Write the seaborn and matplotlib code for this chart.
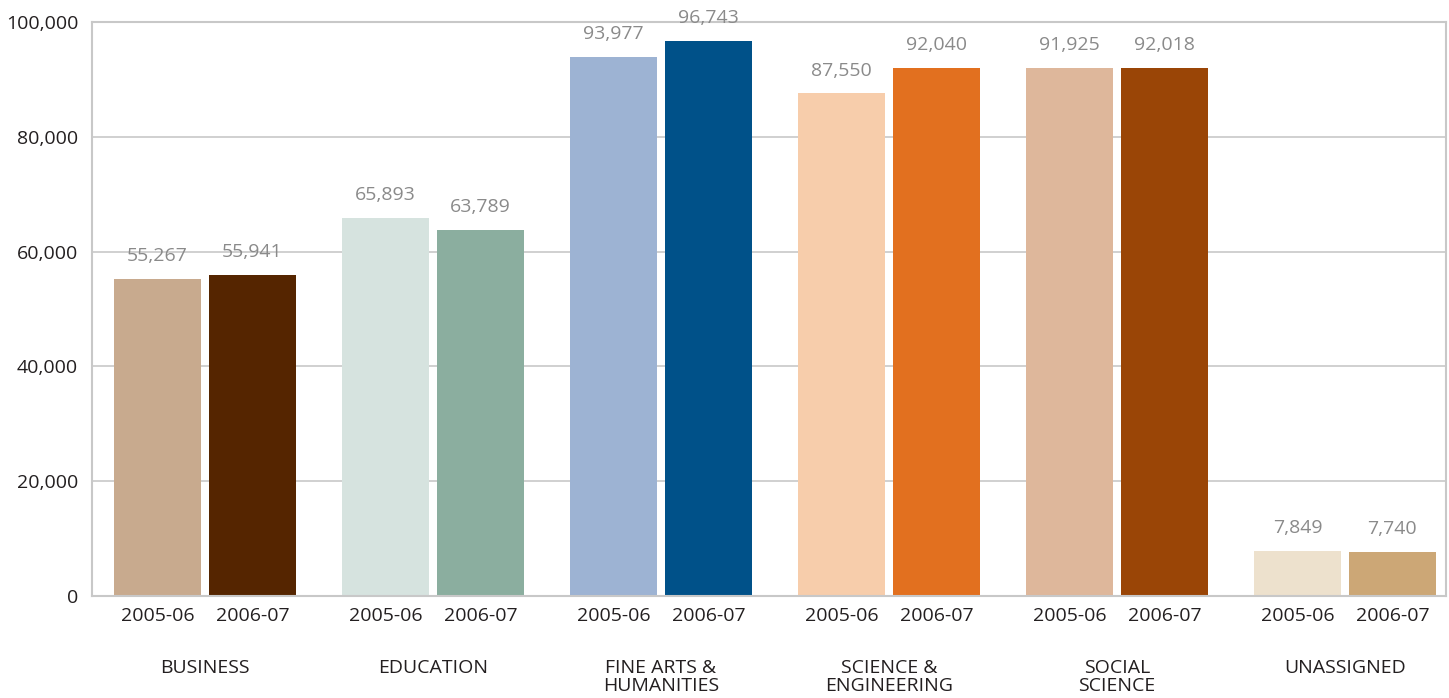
import pandas as pd
import matplotlib.pyplot as plt
import seaborn as sns

sns.set_style('white')
plt.rcParams['font.family'] = ['Open Sans', 'DejaVu Sans']

# data
colleges = ['BUSINESS', 'EDUCATION', 'FINE ARTS &\nHUMANITIES', 'SCIENCE &\nENGINEERING',
            'SOCIAL\nSCIENCE', 'UNASSIGNED']
years = ['2005-06', '2006-07']
values_0506 = [55267, 65893, 93977, 87550, 91925, 7849]
values_0607 = [55941, 63789, 96743, 92040, 92018, 7740]
bar_colors = ['#c8aa8e', '#552500',
              '#d6e3df', '#8bae9f',
              '#9db3d3', '#005189',
              '#f7cdab', '#e2701f',
              '#deb79b', '#9a4506',
              '#ede1cd', '#cca776']

rows = []
for i, c in enumerate(colleges):
    for j, (y, v) in enumerate(zip(years, [values_0506[i], values_0607[i]])):
        rows.append({'college': c, 'year': y, 'value': v,
                     'pos': i * 2.4 + j, 'bar': f'{i}-{j}'})
df = pd.DataFrame(rows)

fig = plt.figure(figsize=(14.49, 6.98), dpi=100)
ax = fig.add_axes([92 / 1449, 1 - 596 / 698, 1354 / 1449, 574 / 698])

sns.barplot(data=df, x='pos', y='value', hue='bar', palette=bar_colors,
            native_scale=True, dodge=False, width=0.916, legend=False,
            saturation=1, linewidth=0, ax=ax, zorder=2)

ax.set_xlim(-0.689, 13.564)
ax.set_ylim(0, 100000)
ax.set_yticks(range(0, 100001, 20000))
ax.set_yticklabels([f'{t:,}' for t in range(0, 100001, 20000)], fontsize=14, color='#231f20')
ax.yaxis.grid(True, color='#c8c8c8', linewidth=1.2, zorder=0)
ax.set_axisbelow(True)
for s in ax.spines.values():
    s.set_color('#c8c8c8')
    s.set_linewidth(1.5)

ax.set_xticks(df['pos'])
ax.set_xticklabels(df['year'], fontsize=14, color='#231f20')
ax.tick_params(axis='both', length=0)
ax.tick_params(axis='x', pad=8)
ax.tick_params(axis='y', pad=10)
ax.set_xlabel('')
ax.set_ylabel('')

# value labels
for _, r in df.iterrows():
    ax.annotate(f"{r['value']:,}", (r['pos'], r['value']), xytext=(0, 10),
                textcoords='offset points', ha='center', va='bottom',
                fontsize=14, color='#8a8a8a')

# college labels
for i, c in enumerate(colleges):
    ax.text(i * 2.4 + 0.5, -0.11, c, transform=ax.get_xaxis_transform(),
            ha='center', va='top', fontsize=14, color='#231f20', linespacing=1.0)

plt.savefig('out.png', dpi=100)
